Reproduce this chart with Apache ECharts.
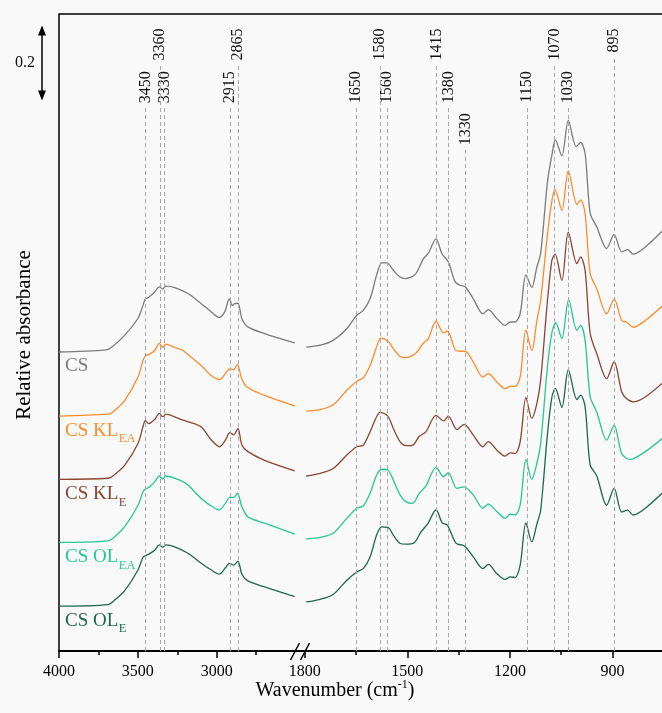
<!DOCTYPE html>
<html>

<head>
    <meta charset="utf-8" />
    <script src="https://cdn.jsdelivr.net/npm/echarts@6/dist/echarts.min.js"></script>
    <style>
        html, body { margin: 0; padding: 0; background: #f9f9f9; }
    </style>
</head>

<body>
    <div id="main" style="width: 662px;height:713px;"></div>
    <script type="text/javascript">
        const FONT = '"Liberation Serif", "Times New Roman", serif';

        // sample labels: main text + subscript, colours, vertical offsets
        const sampleMain = ['CS', 'CS KL', 'CS KL', 'CS OL', 'CS OL'];
        const sampleSub = ['', 'EA', 'E', 'EA', 'E'];
        const sampleColors = ['#7b7b7b', '#ff8a2c', '#8a4630', '#25c795', '#1d6650'];
        const offsets = [0.798, 0.627, 0.458, 0.290, 0.120];

        // axis ticks
        const leftMajorTicks = [4000, 3500, 3000];
        const leftMinorTicks = [3750, 3250, 2750];
        const rightMajorTicks = [1800, 1500, 1200, 900];
        const rightMinorTicks = [1650, 1350, 1050];

        // band labels at the top
        const bandsLeft = [3450, 3360, 3330, 2915, 2865];
        const bandsLeftRow = [1, 0, 1, 1, 0];
        const bandsRight = [1650, 1580, 1560, 1415, 1380, 1330, 1150, 1070, 1030, 895];
        const bandsRightRow = [1, 0, 1, 0, 1, 2, 1, 0, 1, 0];
        const rowTops = [1.661, 1.547, 1.435];

        // 0.2 scale bar
        const scaleBarValue = 0.2;
        const scaleBarTop = 1.669;

        // spectra: [wavenumber, relative absorbance] (4000-2500 part)
        const csLeft = [[4000, 0], [3710, 0.005], [3668, 0.012], [3583, 0.045], [3499, 0.090], [3467, 0.125], [3453, 0.141], [3431, 0.146], [3393, 0.160], [3364, 0.174], [3342, 0.168], [3322, 0.176], [3266, 0.172], [3182, 0.156], [3098, 0.129], [3034, 0.107], [2985, 0.092], [2949, 0.107], [2920, 0.142], [2900, 0.124], [2886, 0.129], [2865, 0.130], [2840, 0.089], [2802, 0.067], [2696, 0.049], [2505, 0.024]];
        const klEaLeft = [[4000, 0], [3689, 0.005], [3658, 0.011], [3583, 0.042], [3499, 0.104], [3467, 0.149], [3453, 0.160], [3431, 0.164], [3393, 0.175], [3364, 0.194], [3342, 0.183], [3322, 0.192], [3266, 0.183], [3214, 0.175], [3182, 0.164], [3098, 0.135], [3034, 0.108], [2981, 0.097], [2939, 0.117], [2918, 0.126], [2892, 0.124], [2869, 0.138], [2844, 0.104], [2812, 0.079], [2696, 0.055], [2505, 0.027]];
        const klELeft = [[4000, 0], [3689, 0.003], [3658, 0.009], [3583, 0.038], [3499, 0.096], [3467, 0.141], [3453, 0.157], [3431, 0.149], [3393, 0.160], [3364, 0.176], [3342, 0.167], [3322, 0.174], [3266, 0.167], [3214, 0.158], [3182, 0.154], [3098, 0.140], [3034, 0.105], [2981, 0.087], [2939, 0.109], [2918, 0.125], [2892, 0.119], [2865, 0.136], [2840, 0.092], [2802, 0.074], [2696, 0.051], [2505, 0.023]];
        const olEaLeft = [[4000, 0], [3689, 0.004], [3647, 0.015], [3583, 0.042], [3499, 0.099], [3467, 0.135], [3453, 0.142], [3425, 0.148], [3393, 0.162], [3364, 0.177], [3342, 0.169], [3322, 0.177], [3266, 0.171], [3214, 0.162], [3182, 0.153], [3098, 0.117], [3034, 0.097], [2985, 0.086], [2939, 0.108], [2918, 0.120], [2892, 0.120], [2869, 0.131], [2840, 0.095], [2802, 0.068], [2696, 0.051], [2505, 0.022]];
        const olELeft = [[4000, 0], [3689, 0.004], [3647, 0.016], [3583, 0.041], [3499, 0.096], [3467, 0.131], [3453, 0.134], [3425, 0.140], [3393, 0.149], [3364, 0.163], [3342, 0.157], [3322, 0.163], [3266, 0.158], [3182, 0.141], [3098, 0.114], [3034, 0.096], [2985, 0.085], [2939, 0.105], [2918, 0.114], [2892, 0.109], [2865, 0.120], [2840, 0.085], [2802, 0.067], [2696, 0.051], [2505, 0.025]];

        // spectra (1800-750 part)
        const csRight = [[1796, 0.013], [1755, 0.018], [1717, 0.031], [1677, 0.062], [1648, 0.098], [1629, 0.111], [1609, 0.142], [1590, 0.205], [1575, 0.238], [1560, 0.238], [1541, 0.218], [1521, 0.200], [1507, 0.196], [1477, 0.207], [1453, 0.249], [1439, 0.263], [1416, 0.302], [1399, 0.263], [1380, 0.240], [1360, 0.187], [1346, 0.178], [1331, 0.174], [1307, 0.142], [1279, 0.102], [1263, 0.113], [1238, 0.089], [1214, 0.071], [1199, 0.080], [1185, 0.080], [1170, 0.102], [1153, 0.206], [1136, 0.172], [1121, 0.227], [1110, 0.263], [1090, 0.454], [1077, 0.526], [1067, 0.566], [1048, 0.523], [1029, 0.618], [1006, 0.548], [993, 0.559], [980, 0.530], [965, 0.370], [946, 0.334], [917, 0.276], [895, 0.314], [873, 0.267], [856, 0.273], [839, 0.261], [804, 0.280], [755, 0.322]];
        const klEaRight = [[1796, 0.013], [1755, 0.017], [1717, 0.030], [1677, 0.069], [1648, 0.093], [1629, 0.102], [1609, 0.135], [1590, 0.184], [1578, 0.208], [1557, 0.200], [1541, 0.180], [1521, 0.159], [1507, 0.156], [1477, 0.166], [1453, 0.195], [1439, 0.206], [1416, 0.253], [1394, 0.222], [1383, 0.227], [1360, 0.177], [1346, 0.173], [1331, 0.173], [1307, 0.144], [1279, 0.104], [1263, 0.113], [1238, 0.091], [1214, 0.073], [1199, 0.079], [1185, 0.079], [1170, 0.104], [1153, 0.229], [1136, 0.175], [1121, 0.255], [1110, 0.309], [1090, 0.486], [1077, 0.575], [1068, 0.604], [1048, 0.549], [1029, 0.655], [1004, 0.565], [993, 0.577], [980, 0.540], [965, 0.380], [946, 0.340], [917, 0.273], [895, 0.312], [873, 0.255], [859, 0.251], [839, 0.237], [804, 0.255], [755, 0.293]];
        const klERight = [[1796, 0.009], [1755, 0.016], [1717, 0.029], [1677, 0.065], [1648, 0.087], [1629, 0.091], [1609, 0.127], [1590, 0.167], [1580, 0.179], [1557, 0.169], [1541, 0.136], [1521, 0.100], [1504, 0.090], [1485, 0.091], [1465, 0.115], [1446, 0.127], [1416, 0.171], [1394, 0.156], [1380, 0.169], [1355, 0.133], [1334, 0.147], [1307, 0.118], [1279, 0.087], [1263, 0.101], [1238, 0.078], [1214, 0.062], [1199, 0.071], [1185, 0.069], [1170, 0.100], [1153, 0.218], [1136, 0.163], [1121, 0.203], [1110, 0.265], [1090, 0.478], [1077, 0.585], [1068, 0.601], [1048, 0.531], [1029, 0.660], [1004, 0.576], [993, 0.594], [980, 0.558], [965, 0.389], [946, 0.336], [917, 0.269], [895, 0.314], [873, 0.234], [859, 0.216], [839, 0.207], [804, 0.220], [755, 0.256]];
        const olEaRight = [[1796, 0.009], [1755, 0.013], [1717, 0.024], [1677, 0.064], [1648, 0.091], [1629, 0.097], [1609, 0.131], [1590, 0.179], [1575, 0.195], [1557, 0.193], [1541, 0.166], [1521, 0.126], [1504, 0.108], [1485, 0.104], [1465, 0.131], [1446, 0.150], [1416, 0.200], [1394, 0.175], [1380, 0.186], [1355, 0.144], [1334, 0.148], [1307, 0.126], [1279, 0.091], [1263, 0.102], [1238, 0.082], [1214, 0.064], [1199, 0.075], [1185, 0.073], [1170, 0.099], [1153, 0.221], [1136, 0.168], [1121, 0.211], [1110, 0.264], [1090, 0.470], [1077, 0.560], [1066, 0.586], [1048, 0.544], [1028, 0.648], [1004, 0.566], [993, 0.579], [980, 0.539], [965, 0.388], [946, 0.348], [917, 0.273], [895, 0.313], [873, 0.237], [849, 0.221], [804, 0.242], [755, 0.277]];
        const olERight = [[1796, 0.011], [1755, 0.018], [1717, 0.031], [1677, 0.069], [1648, 0.091], [1629, 0.100], [1609, 0.131], [1590, 0.189], [1575, 0.211], [1557, 0.210], [1541, 0.189], [1521, 0.167], [1504, 0.165], [1480, 0.169], [1460, 0.198], [1440, 0.220], [1416, 0.257], [1398, 0.222], [1383, 0.216], [1357, 0.167], [1334, 0.161], [1307, 0.131], [1279, 0.100], [1263, 0.111], [1238, 0.086], [1214, 0.071], [1199, 0.078], [1185, 0.076], [1170, 0.109], [1153, 0.222], [1136, 0.171], [1121, 0.219], [1110, 0.255], [1090, 0.460], [1077, 0.558], [1067, 0.581], [1048, 0.530], [1029, 0.631], [1004, 0.551], [993, 0.563], [980, 0.532], [965, 0.376], [946, 0.348], [917, 0.269], [895, 0.314], [873, 0.251], [856, 0.256], [839, 0.243], [804, 0.261], [755, 0.301]];

        const leftData = [csLeft, klEaLeft, klELeft, olEaLeft, olELeft];
        const rightData = [csRight, klEaRight, klERight, olEaRight, olERight];

        const myChart = echarts.init(document.getElementById('main'), null, { renderer: 'canvas' });

        // dashed guide lines: end a little below the rotated label
        function guideLines(bands, rows) {
            return bands.map(function (b, k) {
                const textPx = String(b).length * 8 + 4;
                return [{ coord: [b, 0] }, { coord: [b, rowTops[rows[k]] - textPx / 375] }];
            });
        }

        function lineSeries(d, i, g) {
            const s = {
                type: 'line',
                xAxisIndex: g * 2,
                yAxisIndex: g,
                data: d.map(function (p) { return [p[0], p[1] + offsets[i]]; }),
                showSymbol: false,
                symbol: 'none',
                smooth: 0.3,
                lineStyle: { color: sampleColors[i], width: 1.3 },
                silent: true,
                z: 3
            };
            if (i === 0) {
                s.markLine = {
                    silent: true,
                    symbol: 'none',
                    label: { show: false },
                    lineStyle: { type: [4, 3], color: '#a8a8a8', width: 1 },
                    data: g === 0 ? guideLines(bandsLeft, bandsLeftRow) : guideLines(bandsRight, bandsRightRow)
                };
            }
            return s;
        }

        const series = [];
        leftData.forEach(function (d, i) { series.push(lineSeries(d, i, 0)); });
        rightData.forEach(function (d, i) { series.push(lineSeries(d, i, 1)); });

        function xAxisMajor(g, min, max, ticks) {
            return {
                type: 'value', gridIndex: g, position: 'bottom', inverse: true, min: min, max: max,
                axisLine: { show: true, onZero: false, lineStyle: { color: '#000', width: 2 } },
                axisTick: { show: true, customValues: ticks, length: 7, lineStyle: { color: '#000', width: 1.5 } },
                axisLabel: {
                    show: true, customValues: ticks, color: '#000', fontSize: 16, fontFamily: FONT, margin: 13,
                    formatter: function (v) { return String(v); }
                },
                splitLine: { show: false }
            };
        }
        function xAxisMinor(g, min, max, ticks) {
            return {
                type: 'value', gridIndex: g, position: 'bottom', inverse: true, min: min, max: max,
                axisLine: { show: false },
                axisTick: { show: true, customValues: ticks, length: 4, lineStyle: { color: '#000', width: 1.5 } },
                axisLabel: { show: false },
                splitLine: { show: false }
            };
        }

        const option = {
            backgroundColor: '#f9f9f9',
            animation: false,
            grid: [
                { left: 59, top: 14, width: 236.5, height: 637, outerBoundsMode: 'none' },
                { left: 304.8, top: 14, width: 357.2, height: 637, outerBoundsMode: 'none' }
            ],
            xAxis: [
                xAxisMajor(0, 2500, 4000, leftMajorTicks),
                xAxisMinor(0, 2500, 4000, leftMinorTicks),
                xAxisMajor(1, 755, 1800, rightMajorTicks),
                xAxisMinor(1, 755, 1800, rightMinorTicks)
            ],
            yAxis: [
                {
                    type: 'value', gridIndex: 0, min: 0, max: 1.7,
                    axisLine: { show: true, lineStyle: { color: '#000', width: 1.5 } },
                    axisTick: { show: false }, axisLabel: { show: false }, splitLine: { show: false }
                },
                { type: 'value', gridIndex: 1, min: 0, max: 1.7, show: false }
            ],
            series: series
        };

        myChart.setOption(option);

        // annotations placed through the axes
        function px(g, x, y) {
            return myChart.convertToPixel({ xAxisIndex: g * 2, yAxisIndex: g }, [x, y]);
        }
        const measureCtx = document.createElement('canvas').getContext('2d');
        function textWidth(text, font) {
            measureCtx.font = font;
            return measureCtx.measureText(text).width;
        }
        const graphic = [];

        function bandLabels(g, bands, rows) {
            bands.forEach(function (b, k) {
                const p = px(g, b, rowTops[rows[k]]);
                graphic.push({
                    type: 'text', x: p[0], y: p[1], rotation: Math.PI / 2, silent: true,
                    style: { text: String(b), font: '16px ' + FONT, fill: '#111', align: 'right', verticalAlign: 'middle' }
                });
            });
        }
        bandLabels(0, bandsLeft, bandsLeftRow);
        bandLabels(1, bandsRight, bandsRightRow);

        // sample names under each baseline (subscript as a second text)
        const mainFont = '19px ' + FONT;
        const subFont = '12.5px ' + FONT;
        sampleMain.forEach(function (name, i) {
            const p = px(0, 4000, offsets[i]);
            const x0 = p[0] + 6;
            graphic.push({
                type: 'text', x: x0, y: p[1] + 14.5, silent: true,
                style: { text: name, font: mainFont, fill: sampleColors[i], align: 'left', verticalAlign: 'middle' }
            });
            if (sampleSub[i]) {
                graphic.push({
                    type: 'text', x: x0 + textWidth(name, mainFont) + 0.5, y: p[1] + 23, silent: true,
                    style: { text: sampleSub[i], font: subFont, fill: sampleColors[i], align: 'left', verticalAlign: 'middle' }
                });
            }
        });

        // frame: top border, axis gap and break marks
        const topLeft = px(0, 4000, 1.7);
        const leftEnd = px(0, 2500, 0);
        const rightStart = px(1, 1800, 0);
        graphic.push({ type: 'line', silent: true, shape: { x1: topLeft[0], y1: topLeft[1], x2: 662, y2: topLeft[1] }, style: { stroke: '#000', lineWidth: 1.5 } });
        graphic.push({ type: 'line', silent: true, shape: { x1: leftEnd[0], y1: leftEnd[1], x2: rightStart[0], y2: rightStart[1] }, style: { stroke: '#000', lineWidth: 2 } });
        [-5, 5].forEach(function (dx) {
            graphic.push({ type: 'line', silent: true, shape: { x1: leftEnd[0] + dx, y1: leftEnd[1] + 9, x2: leftEnd[0] + dx + 9, y2: leftEnd[1] - 8 }, style: { stroke: '#000', lineWidth: 1.5 } });
        });

        // 0.2 scale bar
        const barTop = px(0, 4000, scaleBarTop)[1];
        const barBot = px(0, 4000, scaleBarTop - scaleBarValue)[1];
        const bx = 42;
        graphic.push({ type: 'line', silent: true, shape: { x1: bx, y1: barTop + 6, x2: bx, y2: barBot - 6 }, style: { stroke: '#000', lineWidth: 1.5 } });
        graphic.push({ type: 'polygon', silent: true, shape: { points: [[bx, barTop], [bx - 4, barTop + 10], [bx + 4, barTop + 10]] }, style: { fill: '#000' } });
        graphic.push({ type: 'polygon', silent: true, shape: { points: [[bx, barBot], [bx - 4, barBot - 10], [bx + 4, barBot - 10]] }, style: { fill: '#000' } });
        graphic.push({
            type: 'text', x: 25, y: (barTop + barBot) / 2, silent: true,
            style: { text: '0.2', font: '16px ' + FONT, fill: '#111', align: 'center', verticalAlign: 'middle' }
        });

        // axis titles
        graphic.push({
            type: 'text', x: 24, y: 335, rotation: Math.PI / 2, silent: true,
            style: { text: 'Relative absorbance', font: '21px ' + FONT, fill: '#000', align: 'center', verticalAlign: 'middle' }
        });
        graphic.push({
            type: 'text', x: 335, y: 690, silent: true,
            style: {
                text: '{a|Wavenumber (cm}{b|-1}{a|)}', align: 'center', verticalAlign: 'middle',
                rich: {
                    a: { fontSize: 20, fontFamily: FONT, lineHeight: 22, verticalAlign: 'bottom', fill: '#000' },
                    b: { fontSize: 12, fontFamily: FONT, lineHeight: 12, verticalAlign: 'top', fill: '#000' }
                }
            }
        });

        myChart.setOption({ graphic: graphic });

        window.addEventListener('resize', myChart.resize);
    </script>
</body>

</html>
